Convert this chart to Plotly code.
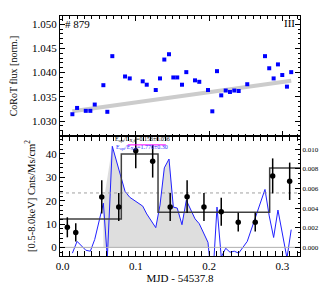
import plotly.graph_objects as go

# ---- Upper panel: CoRoT normalised flux ----
t_opt = [0.0134, 0.0198, 0.0317, 0.0379, 0.0439, 0.0557, 0.0611, 0.0679, 0.0853, 0.0917,
         0.1094, 0.1149, 0.1272, 0.1330, 0.1389, 0.1453, 0.1512, 0.1565, 0.1630, 0.1689,
         0.1808, 0.1866, 0.1985, 0.2044, 0.2108, 0.2166, 0.2227, 0.2285, 0.2344, 0.2404,
         0.2521, 0.2763, 0.2821, 0.2881, 0.2940, 0.2999, 0.3063, 0.3121]
flux = [1.0314, 1.0327, 1.0321, 1.0321, 1.0334, 1.0374, 1.0319, 1.0434, 1.0392, 1.0388,
        1.0382, 1.0375, 1.0364, 1.0388, 1.0427, 1.0438, 1.0390, 1.0390, 1.0375, 1.0401,
        1.0384, 1.0381, 1.0364, 1.0320, 1.0403, 1.0353, 1.0363, 1.0360, 1.0363, 1.0362,
        1.0376, 1.0434, 1.0409, 1.0388, 1.0417, 1.0395, 1.0371, 1.0401]
trend_t = [0.0134, 0.3121]
trend_f = [1.0320, 1.0383]

# ---- Lower panel: detrended optical flux (right axis) ----
detrended = [-0.0006, 0.0006, -0.0003, -0.0004, 0.0008, 0.0045, -0.0011, 0.0103, 0.0057, 0.0051,
             0.0042, 0.0034, 0.0020, 0.0043, 0.0081, 0.0090, 0.0041, 0.0040, 0.0023, 0.0048,
             0.0029, 0.0024, 0.0005, -0.0040, 0.0041, -0.0010, -0.0001, -0.0005, -0.0004, -0.0006,
             0.0006, 0.0059, 0.0032, 0.0010, 0.0038, 0.0015, -0.0011, 0.0018]
fill_t = [0.0557, 0.0679, 0.0853, 0.0917, 0.1094, 0.1149, 0.1272, 0.1330, 0.1389, 0.1453,
          0.1512, 0.1565, 0.1630, 0.1689, 0.1808, 0.1866, 0.1985]
fill_v = [0.0045, 0.0103, 0.0057, 0.0051, 0.0042, 0.0034, 0.0020, 0.0043, 0.0081, 0.0090,
          0.0041, 0.0040, 0.0023, 0.0048, 0.0029, 0.0024, 0.0005]

# ---- Lower panel: X-ray rate (left axis) ----
t_x = [0.0065, 0.0180, 0.0535, 0.0767, 0.0999, 0.1230, 0.1469, 0.1700, 0.1930, 0.2166,
       0.2398, 0.2630, 0.2868, 0.3100]
rate = [8.6, 6.4, 21.6, 17.3, 41.4, 36.9, 17.3, 21.7, 17.3, 15.3, 10.8, 10.8, 30.6, 28.3]
rate_err = [4.3, 3.9, 7.1, 6.0, 7.5, 7.0, 6.0, 7.0, 6.0, 6.0, 4.0, 4.0, 7.5, 8.0]

# Bayesian blocks
block_edges = [-0.0035, 0.0802, 0.1303, 0.2827, 0.3241]
block_rate = [12.1, 40.0, 15.0, 34.0]
dotted_level = 23.3

xr = [-0.0035, 0.3241]
SERIF = "Liberation Serif, Times New Roman, serif"

fig = go.Figure()

fig.add_trace(go.Scatter(x=trend_t, y=trend_f, mode="lines",
                         line=dict(color="#cccccc", width=4), xaxis="x", yaxis="y"))
fig.add_trace(go.Scatter(x=t_opt, y=flux, mode="markers",
                         marker=dict(symbol="square", size=4, color="#0000ff"),
                         xaxis="x", yaxis="y"))

# lower panel: optical (right axis, base y2)
fig.add_trace(go.Scatter(x=fill_t, y=fill_v, mode="none", fill="tozeroy",
                         fillcolor="rgba(205,205,205,0.65)", xaxis="x2", yaxis="y2"))
fig.add_trace(go.Scatter(x=t_opt, y=detrended, mode="lines",
                         line=dict(color="#2020ff", width=1), xaxis="x2", yaxis="y2"))

# lower panel: X-ray (left axis, overlay y3)
fig.add_trace(go.Scatter(x=xr, y=[0, 0], mode="lines",
                         line=dict(color="#b0b0b0", width=1), xaxis="x2", yaxis="y3"))
fig.add_trace(go.Scatter(x=xr, y=[dotted_level, dotted_level], mode="lines",
                         line=dict(color="#a0a0a0", width=1, dash="dot"), xaxis="x2", yaxis="y3"))
step_y = block_rate + [block_rate[-1]]
fig.add_trace(go.Scatter(x=block_edges, y=step_y, mode="lines", line_shape="hv",
                         line=dict(color="#404040", width=1.5), xaxis="x2", yaxis="y3"))
fig.add_trace(go.Scatter(x=t_x, y=rate, mode="markers",
                         marker=dict(size=5.5, color="black"),
                         error_y=dict(type="data", array=rate_err, color="black",
                                      thickness=1.5, width=0),
                         xaxis="x2", yaxis="y3"))

ax_common = dict(showline=True, linecolor="black", linewidth=1, ticks="inside",
                 tickcolor="black", ticklen=5, showgrid=False, zeroline=False,
                 automargin=False,
                 tickfont=dict(family=SERIF, size=11, color="black"))

fig.update_layout(
    width=327, height=283,
    margin=dict(l=52, r=35, t=8, b=35),
    paper_bgcolor="white", plot_bgcolor="white",
    showlegend=False,
    font=dict(family=SERIF, color="black"),
    xaxis=dict(ax_common, domain=[0, 1], anchor="y", range=xr, dtick=0.1,
               showticklabels=False, mirror="allticks",
               minor=dict(ticks="inside", dtick=0.01, ticklen=2.5, tickcolor="black")),
    yaxis=dict(ax_common, domain=[0.5, 1], anchor="x", range=[1.0269, 1.0517],
               dtick=0.005, tickformat=".3f", mirror="allticks",
               title=dict(text="CoRoT flux [norm.]", font=dict(family=SERIF, size=10), standoff=13),
               minor=dict(ticks="inside", dtick=0.001, ticklen=2.5, tickcolor="black")),
    xaxis2=dict(ax_common, domain=[0, 1], anchor="y2", range=xr, dtick=0.1,
                tickformat=".1f", mirror="allticks", automargin=True,
                title=dict(text="MJD - 54537.8", font=dict(family=SERIF, size=11), standoff=3),
                minor=dict(ticks="inside", dtick=0.01, ticklen=2.5, tickcolor="black")),
    yaxis2=dict(ax_common, domain=[0, 0.5], anchor="x2", side="right",
                range=[-0.00089, 0.01135], dtick=0.002, tickformat=".3f",
                tickfont=dict(family=SERIF, size=7, color="black"),
                title=dict(text="CoRoT flux [norm. - detrended]",
                           font=dict(family=SERIF, size=7), standoff=3),
                minor=dict(ticks="inside", dtick=0.0005, ticklen=2.5, tickcolor="black")),
    yaxis3=dict(ax_common, overlaying="y2", side="left", anchor="x2",
                range=[-3.7, 47.7], dtick=10,
                title=dict(text="[0.5-8.0keV] Cnts/Ms/cm<sup>2</sup>",
                           font=dict(family=SERIF, size=10.5), standoff=8),
                minor=dict(ticks="inside", dtick=2, ticklen=2.5, tickcolor="black")),
)

fig.add_annotation(x=0.001, y=1.0500, xref="x", yref="y", text="# 879", showarrow=False,
                   xanchor="left", yanchor="middle", font=dict(family=SERIF, size=11))
fig.add_annotation(x=0.310, y=1.0502, xref="x", yref="y", text="III", showarrow=False,
                   xanchor="center", yanchor="middle", font=dict(family=SERIF, size=11))
fig.add_annotation(x=0.1085, y=46.0, xref="x2", yref="y3",
                   text="E<sub>opt</sub>/L<sub>X,fl</sub>=0.156±0.036", showarrow=False,
                   xanchor="center", yanchor="middle", font=dict(family=SERIF, size=6))
fig.add_annotation(x=0.1085, y=42.6, xref="x2", yref="y3",
                   text="E<sub>opt</sub>/E<sub>X,fl</sub>=1.770±0.30", showarrow=False,
                   xanchor="center", yanchor="middle",
                   font=dict(family=SERIF, size=6, color="#3030ff"))
fig.add_shape(type="line", xref="x2", yref="y3", x0=0.089, x1=0.141, y0=43.9, y1=43.9,
              line=dict(color="#ff00ff", width=1))

fig.write_html("out.html")
